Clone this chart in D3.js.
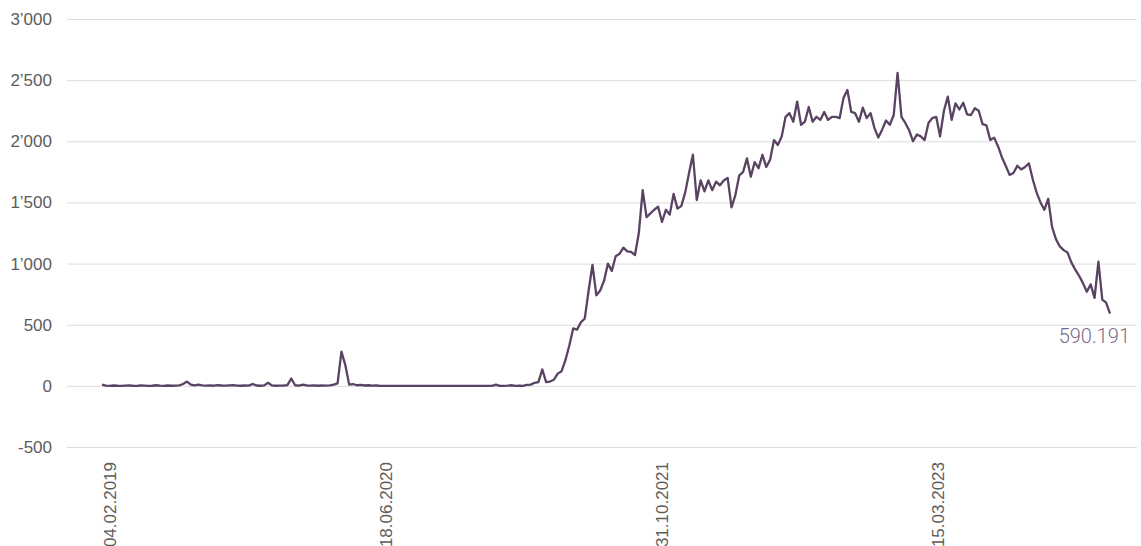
<!DOCTYPE html>
<html>
<head>
<meta charset="utf-8">
<script src="https://cdn.jsdelivr.net/npm/d3@7"></script>
<style>
  body { margin: 0; background: #fff; }
  svg { display: block; font-family: Roboto, "Noto Sans", sans-serif; }
</style>
</head>
<body>
<div id="chart"></div>
<script>
// weekly series, first week starting 21.01.2019
const START_DATE = "2019-01-21";
const values = [
  10, 2, 0, 3, 1, 0, 2, 4, 1, 0,
  3, 2, 0, 1, 5, 2, 0, 3, 1, 2,
  4, 15, 35, 10, 3, 10, 4, 2, 4, 1,
  6, 3, 2, 4, 6, 2, 1, 3, 2, 15,
  3, 1, 4, 25, 4, 1, 2, 3, 6, 60,
  5, 2, 10, 3, 2, 4, 1, 3, 2, 4,
  10, 20, 280, 170, 10, 15, 5, 8, 3, 5,
  2, 3, 0, 0, 0, 0, 0, 0, 0, 0,
  0, 0, 0, 0, 0, 0, 0, 0, 0, 0,
  0, 0, 0, 0, 0, 0, 0, 0, 0, 0,
  0, 0, 10, 0, 0, 2, 5, 0, 2, 0,
  8, 10, 25, 30, 135, 30, 35, 50, 100, 120,
  210, 330, 470, 460, 520, 550, 780, 990, 740, 780,
  860, 1000, 940, 1060, 1080, 1130, 1100, 1095, 1070, 1250,
  1600, 1380, 1410, 1440, 1465, 1340, 1440, 1400, 1570, 1450,
  1470, 1580, 1740, 1890, 1520, 1680, 1590, 1680, 1600, 1670,
  1640, 1680, 1700, 1460, 1560, 1720, 1750, 1860, 1710, 1830,
  1780, 1890, 1790, 1850, 2010, 1970, 2040, 2200, 2230, 2160,
  2325, 2135, 2160, 2280, 2160, 2200, 2175, 2240, 2175, 2200,
  2200, 2190, 2355, 2420, 2240, 2230, 2160, 2275, 2190, 2230,
  2110, 2030, 2095, 2170, 2135, 2215, 2560, 2200, 2150, 2090,
  2000, 2055, 2040, 2010, 2150, 2190, 2200, 2040, 2250, 2365,
  2175, 2310, 2260, 2315, 2220, 2215, 2270, 2250, 2140, 2130,
  2010, 2030, 1960, 1870, 1800, 1725, 1740, 1800, 1770, 1790,
  1820, 1690, 1580, 1500, 1440, 1530, 1300, 1200, 1140, 1110,
  1090, 1010, 950, 900, 840, 770, 830, 720, 1015, 705,
  680, 590.191
];
const xTickLabels = ["04.02.2019", "18.06.2020", "31.10.2021", "15.03.2023"];
const yTicks = [-500, 0, 500, 1000, 1500, 2000, 2500, 3000];

const WIDTH = 1141, HEIGHT = 546;
const LINE_COLOR = "#5a4262";

const parseDay = d3.timeParse("%d.%m.%Y");
const start = d3.timeParse("%Y-%m-%d")(START_DATE);
const data = values.map((v, i) => ({ date: d3.timeWeek.offset(start, i), value: v }));

const svg = d3.select("#chart").append("svg")
  .attr("width", WIDTH).attr("height", HEIGHT);

const x = d3.scaleTime()
  .domain(d3.extent(data, d => d.date))
  .range([102, 1110]);

const y = d3.scaleLinear()
  .domain([-500, 3000])
  .range([447, 19]);

const locale = d3.formatLocale({ decimal: ".", thousands: "\u2019", grouping: [3], currency: ["", ""], minus: "-" });
const fmt = locale.format(",");

// gridlines + y labels
const yAxis = svg.append("g")
  .attr("transform", "translate(67,0)")
  .call(d3.axisLeft(y).tickValues(yTicks).tickSize(-1070).tickPadding(15).tickFormat(fmt));
yAxis.select(".domain").remove();
yAxis.selectAll(".tick line").attr("stroke", "#dcdcdc");
yAxis.selectAll(".tick text")
  .attr("fill", "#5c5c5c").attr("font-size", 17).attr("font-weight", 300);

// x labels, rotated
const xAxis = svg.append("g")
  .attr("transform", "translate(0,462)")
  .call(d3.axisBottom(x).tickValues(xTickLabels.map(parseDay)).tickSize(0).tickFormat(d3.timeFormat("%d.%m.%Y")));
xAxis.select(".domain").remove();
xAxis.selectAll(".tick text")
  .attr("fill", "#5c5c5c").attr("font-size", 17).attr("font-weight", 300)
  .attr("transform", "rotate(-90)")
  .attr("text-anchor", "end")
  .attr("x", 0).attr("y", 0).attr("dy", "0.35em");

const line = d3.line()
  .x(d => x(d.date))
  .y(d => y(d.value));

svg.append("path")
  .datum(data)
  .attr("fill", "none")
  .attr("stroke", LINE_COLOR)
  .attr("stroke-width", 2.3)
  .attr("stroke-linejoin", "round")
  .attr("d", line);

// last value label
const last = data[data.length - 1];
svg.append("text")
  .attr("x", 1130)
  .attr("y", y(last.value) + 29)
  .attr("text-anchor", "end")
  .attr("fill", "#7b6a88")
  .attr("font-size", 20)
  .attr("font-weight", 300)
  .text(d3.format(".3f")(last.value));
</script>
</body>
</html>
